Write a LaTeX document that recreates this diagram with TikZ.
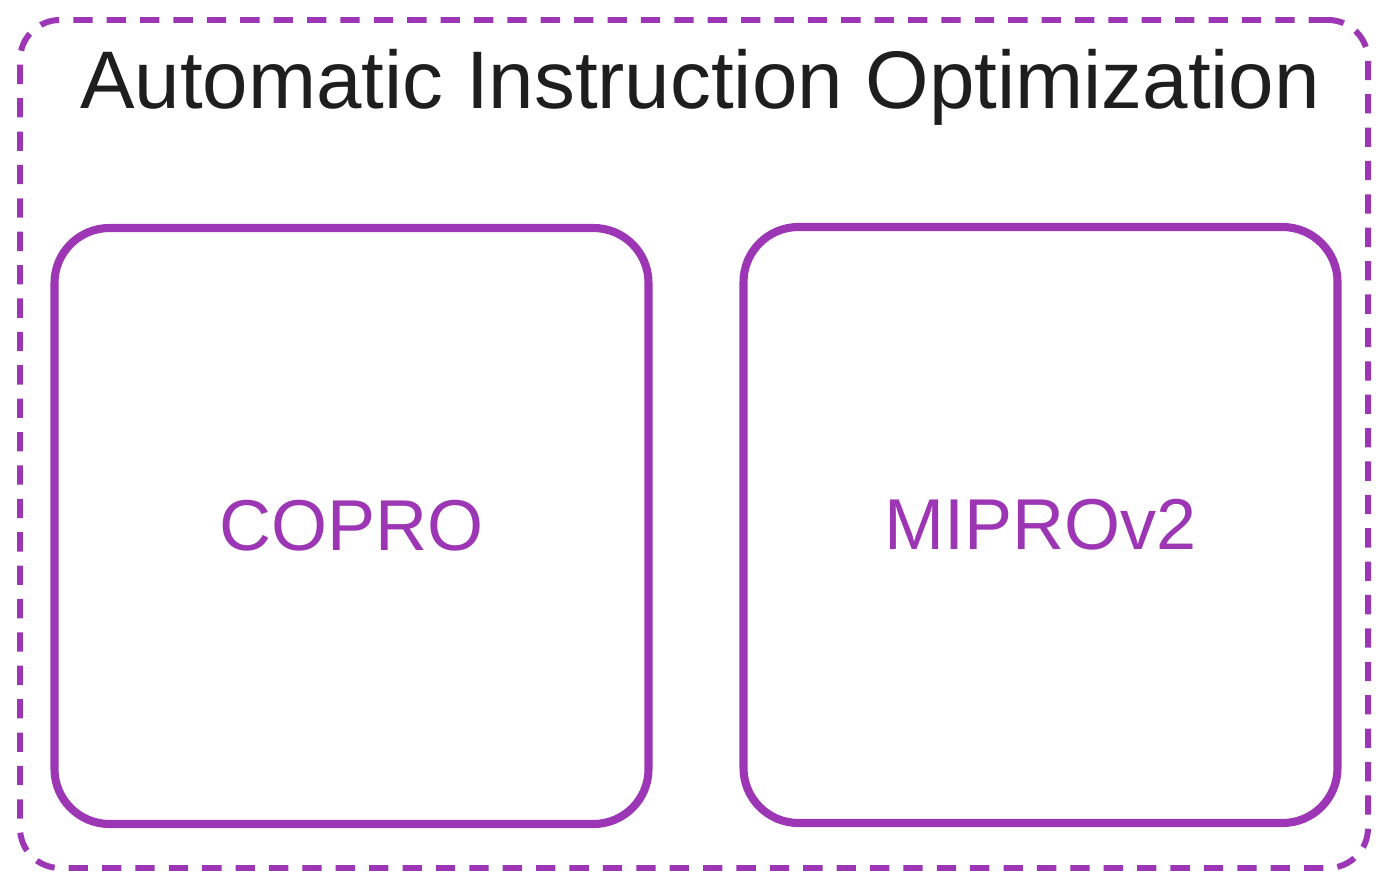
\documentclass[tikz,border=0pt]{standalone}
\usepackage{fontspec}
\setmainfont{Liberation Sans}
\usepackage{tikz}
\usetikzlibrary{positioning}
\definecolor{grape}{HTML}{9C36B5}
\definecolor{ink}{HTML}{1E1E1E}

\begin{document}
\begin{tikzpicture}[
  frame/.style={draw=grape,line width=3.4pt,dash pattern=on 11pt off 8pt,rounded corners=8mm,minimum width=26.96cm,minimum height=16.96cm,inner sep=0pt},
  method/.style={draw=grape,line width=4.6pt,rounded corners=11mm,minimum width=11.88cm,minimum height=11.92cm,inner sep=0pt,text=grape,font=\fontsize{41}{48}\selectfont},
  title/.style={text=ink,font=\fontsize{46.5}{54}\selectfont}
]
  \useasboundingbox (0,0) rectangle (27.84,17.8);
  \node[frame] (group) at (13.88,8.92) {};
  \node[title] (head) at (14.0,16.05) {Automatic Instruction Optimization};
  \node[method] (copro) at (7.03,7.28) {COPRO};
  \node[method] (mipro) at (20.81,7.3) {MIPROv2};
\end{tikzpicture}
\end{document}
